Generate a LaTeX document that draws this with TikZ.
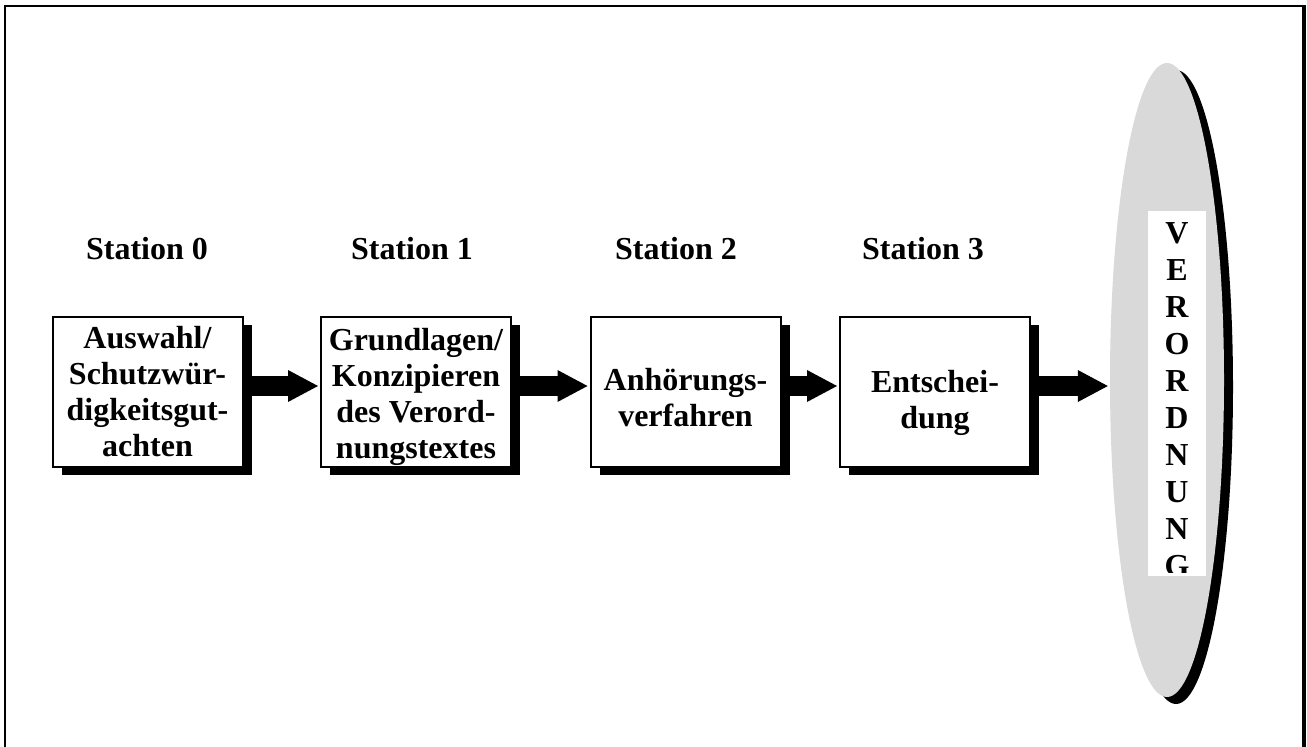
\documentclass[tikz,border=0pt]{standalone}
\usepackage{fontspec}
\setmainfont{Liberation Serif}
\usetikzlibrary{shapes.geometric,shadows,arrows.meta}
\definecolor{ellgray}{HTML}{D9D9D9}
\tikzset{
  boxstyle/.style={draw=black, line width=2pt, fill=white, minimum width=190pt, minimum height=150pt, inner sep=0pt,
    drop shadow={shadow xshift=9pt, shadow yshift=-8pt, opacity=1, fill=black}},
  boxtext/.style={align=center, font=\bfseries\fontsize{32}{36}\selectfont, inner sep=0pt, text depth=0pt},
  stationlabel/.style={anchor=base, font=\bfseries\fontsize{32}{36}\selectfont, inner sep=0pt},
  letterstyle/.style={anchor=base, font=\bfseries\fontsize{32}{36}\selectfont, inner sep=0pt},
  flowarrow/.style={line width=20pt, -{Triangle[length=30pt,width=32pt,line width=0pt]}, shorten >=2pt}
}
\begin{document}
\begin{tikzpicture}[x=1pt,y=-1pt]
\useasboundingbox (0,0) rectangle (1307,747);
% frame
\draw[line width=2pt] (5,760) -- (5,6) -- (1304,6);
\draw[line width=4pt] (1304,5) -- (1304,760);

% station labels
\node[stationlabel] (s0) at (147,259) {Station 0};
\node[stationlabel] (s1) at (412,259) {Station 1};
\node[stationlabel] (s2) at (676,259) {Station 2};
\node[stationlabel] (s3) at (923,259) {Station 3};

% boxes
\node[boxstyle] (b0) at (147.5,392) {};
\node[boxstyle] (b1) at (416,392) {};
\node[boxstyle] (b2) at (685.5,392) {};
\node[boxstyle] (b3) at (935,392) {};

\node[boxtext] (t0) at ([yshift=1pt]b0.center) {Auswahl/\\Schutzwür-\\digkeitsgut-\\achten};
\node[boxtext] (t1) at ([yshift=-1pt]b1.center) {Grundlagen/\\Konzipieren\\des Verord-\\nungstextes};
\node[boxtext] (t2) at ([yshift=-5pt]b2.center) {Anhörungs-\\verfahren};
\node[boxtext] (t3) at ([yshift=-7pt]b3.center) {Entschei-\\dung};

% ellipse
\node[ellipse, fill=ellgray, minimum width=114pt, minimum height=634pt, inner sep=0pt,
  drop shadow={shadow xshift=9pt, shadow yshift=-7pt, opacity=1, fill=black}] (E) at (1167,380) {};
\fill[white] (1148,211) rectangle (1206,576);
\begin{scope}
\clip (1148,211) rectangle (1206,572);
\foreach \l [count=\i from 0] in {V,E,R,O,R,D,N,U,N,G}
  \node[letterstyle] (v\i) at (1177,243+37*\i) {\l};
\end{scope}

% arrows
\draw[flowarrow] ([yshift=6pt]b0.east) -- ([yshift=6pt]b1.west);
\draw[flowarrow] ([yshift=6pt]b1.east) -- ([yshift=6pt]b2.west);
\draw[flowarrow] ([yshift=6pt]b2.east) -- ([yshift=6pt]b3.west);
\draw[flowarrow] ([yshift=6pt]b3.east) -- ([yshift=6pt]b3.east -| E.west);
\end{tikzpicture}
\end{document}
